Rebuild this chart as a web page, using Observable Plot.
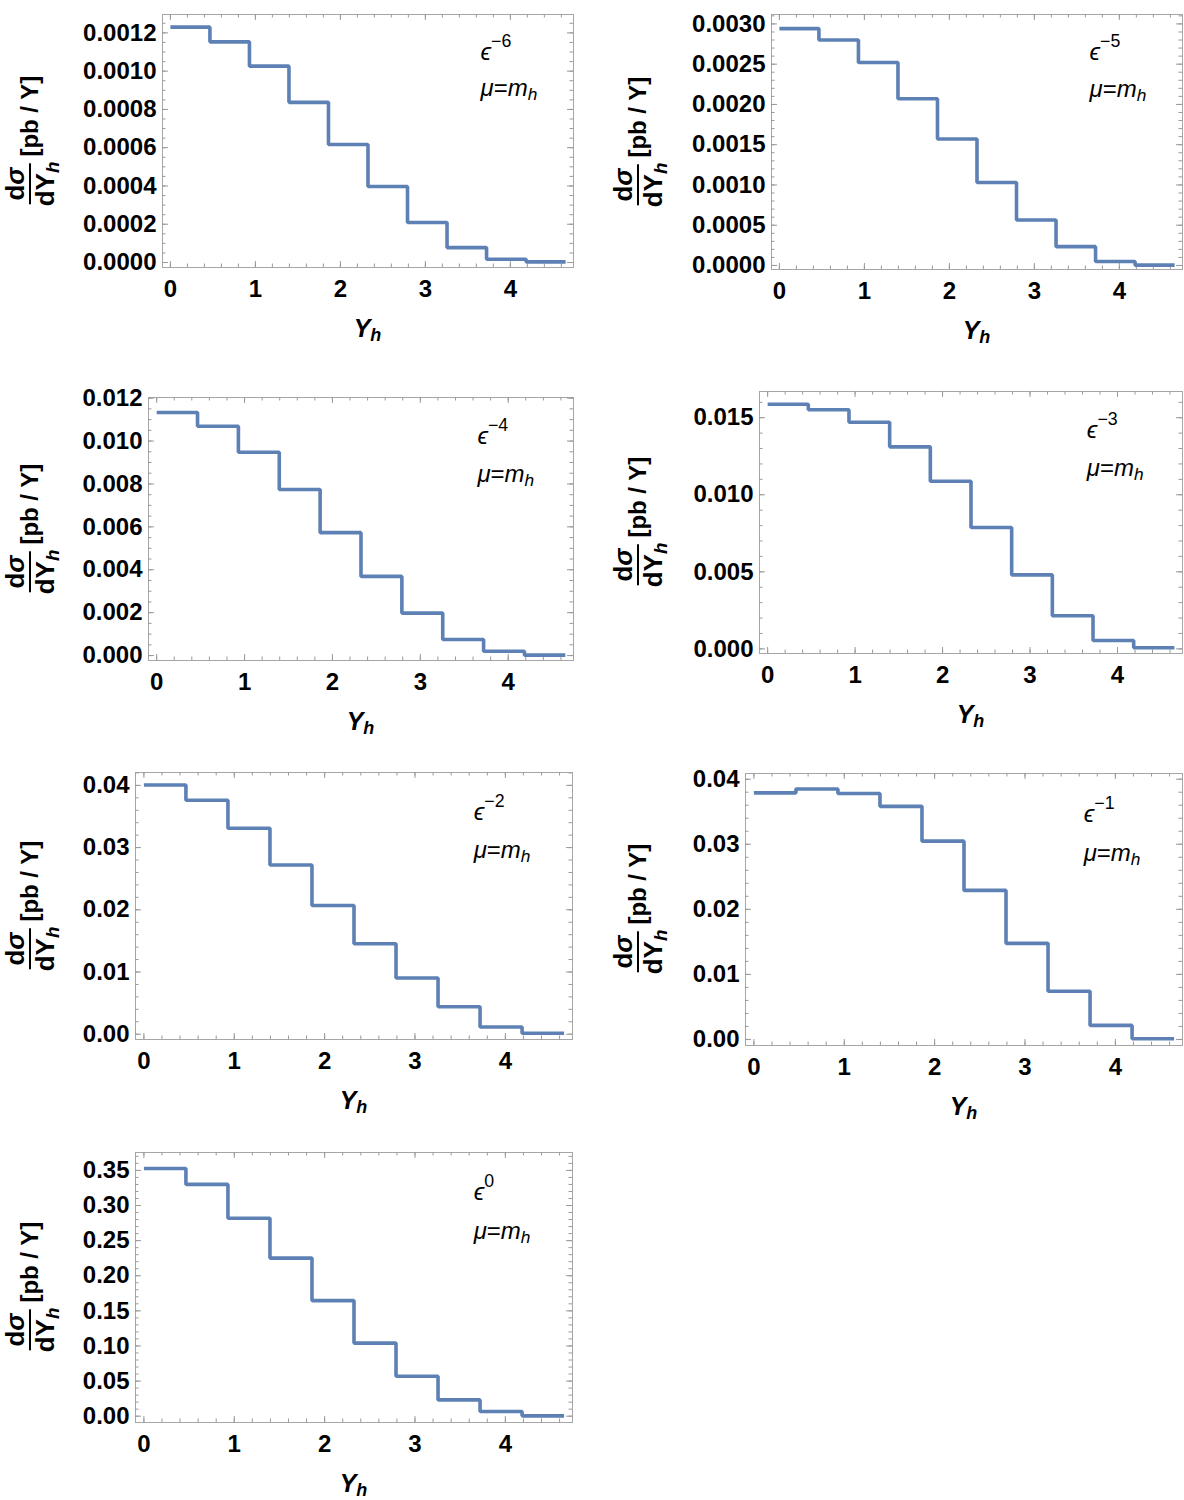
<!DOCTYPE html>
<html><head><meta charset="utf-8">
<script src="https://cdn.jsdelivr.net/npm/d3@7"></script>
<script src="https://cdn.jsdelivr.net/npm/@observablehq/plot@0.6"></script>
<style>
body{margin:0;background:#fff;}
#root{position:relative;width:1184px;height:1500px;font-family:"Liberation Sans",Arial,sans-serif;color:#000;overflow:hidden;}
.panel{position:absolute;}
.ylab{position:absolute;transform:translate(-50%,-50%) rotate(-90deg);white-space:nowrap;font-weight:bold;font-size:24px;display:flex;align-items:center;line-height:1.0;}
.frac{display:inline-flex;flex-direction:column;align-items:center;margin-right:5px;font-size:26px;}
.frac .num{border-bottom:2px solid #000;padding:0 4px 1px 4px;}
.frac .den{padding-top:1px;}
.ylab sub,.xlab sub,.ann sub{font-size:72%;vertical-align:-0.25em;line-height:0;}
.ann{position:absolute;font-size:24px;line-height:1;white-space:nowrap;}
.ann .sup{font-size:74%;vertical-align:0.72em;line-height:0;}
.xlab{position:absolute;transform:translate(-50%,-50%);font-weight:bold;font-style:italic;font-size:25px;white-space:nowrap;}
</style>
</head><body><div id="root"></div>
<script>
// ---- data ----
const binEdges = [0, 0.465, 0.93, 1.395, 1.86, 2.325, 2.79, 3.255, 3.72, 4.185, 4.65];
const orders = ["−6", "−5", "−4", "−3", "−2", "−1", "0"];
const epsM6 = [0.00123, 0.001153, 0.001026, 0.000837, 0.000617, 0.000397, 0.000209, 0.000078, 0.000017, 0.0000035];
const epsM5 = [0.002942, 0.0028, 0.00252, 0.00207, 0.00157, 0.00103, 0.000564, 0.000234, 0.00005, 0.000004];
const epsM4 = [0.01133, 0.01069, 0.00948, 0.00774, 0.00573, 0.00369, 0.00198, 0.00075, 0.0002, 0.00002];
const epsM3 = [0.01587, 0.01552, 0.0147, 0.01311, 0.01088, 0.00788, 0.0048, 0.00215, 0.00054, 0.00007];
const epsM2 = [0.04005, 0.0376, 0.0331, 0.0272, 0.0207, 0.01455, 0.00903, 0.00441, 0.00117, 0.00016];
const epsM1 = [0.03789, 0.0385, 0.03779, 0.03583, 0.03048, 0.02291, 0.01477, 0.00741, 0.00216, 0.0001];
const eps0  = [0.3528, 0.3301, 0.2819, 0.2251, 0.1646, 0.1041, 0.0568, 0.0232, 0.0066, 0.0005];

const xTicks = [0, 1, 2, 3, 4];
const yTicksM6 = [0, 0.0002, 0.0004, 0.0006, 0.0008, 0.0010, 0.0012];
const yTicksM5 = [0, 0.0005, 0.0010, 0.0015, 0.0020, 0.0025, 0.0030];
const yTicksM4 = [0, 0.002, 0.004, 0.006, 0.008, 0.010, 0.012];
const yTicksM3 = [0, 0.005, 0.010, 0.015];
const yTicksM2 = [0, 0.01, 0.02, 0.03, 0.04];
const yTicksM1 = [0, 0.01, 0.02, 0.03, 0.04];
const yTicks0  = [0, 0.05, 0.10, 0.15, 0.20, 0.25, 0.30, 0.35];

// ---- layout / style ----
const BLUE = "#5E81B5", FRAME = "#a6a6a6", TICK = "#9a9a9a";
const xDomain = [-0.093, 4.743];
const panels = [
  {values: epsM6, yTicks: yTicksM6, minor: 0.00005, fmt: ".4f", yDomain: [-0.000026, 0.001296], rect: [162, 573, 14, 267], labX: 30},
  {values: epsM5, yTicks: yTicksM5, minor: 0.0001,  fmt: ".4f", yDomain: [-0.00005, 0.003117],  rect: [771, 1182, 14, 269], labX: 638},
  {values: epsM4, yTicks: yTicksM4, minor: 0.0005,  fmt: ".3f", yDomain: [-0.00023, 0.01203],   rect: [148, 573, 397, 660], labX: 30},
  {values: epsM3, yTicks: yTicksM3, minor: 0.001,   fmt: ".3f", yDomain: [-0.0003, 0.0167],     rect: [759, 1182, 391, 653], labX: 638},
  {values: epsM2, yTicks: yTicksM2, minor: 0.002,   fmt: ".2f", yDomain: [-0.00085, 0.04207],   rect: [135, 572, 772, 1039], labX: 30},
  {values: epsM1, yTicks: yTicksM1, minor: 0.002,   fmt: ".2f", yDomain: [-0.00093, 0.040875],  rect: [745, 1182, 773, 1045], labX: 638},
  {values: eps0,  yTicks: yTicks0,  minor: 0.01,    fmt: ".2f", yDomain: [-0.009, 0.3755],      rect: [135, 572, 1152, 1422], labX: 30}
];

const root = document.getElementById("root");
const ML = 150, MR = 2, MT = 12, MB = 44;
const majLen = 6, minLen = 3.5;

panels.forEach((p, k) => {
  const [x0, x1, y0, y1] = p.rect;
  const innerW = x1 - x0, innerH = y1 - y0;
  const W = innerW + ML + MR, H = innerH + MT + MB;
  const pts = binEdges.map((e, i) => ({x: e, y: p.values[Math.min(i, p.values.length - 1)]}));
  const xMinor = d3.range(0, 4.75, 0.2).map(v => +v.toFixed(3));
  const yStart = Math.ceil(p.yDomain[0] / p.minor) * p.minor;
  const yMinor = d3.range(yStart, p.yDomain[1], p.minor).map(v => +v.toPrecision(6));
  const fmt = d3.format(p.fmt);

  const chart = Plot.plot({
    width: W, height: H,
    marginLeft: ML, marginRight: MR, marginTop: MT, marginBottom: MB,
    x: {domain: xDomain},
    y: {domain: p.yDomain},
    style: {fontFamily: "Liberation Sans, Arial, sans-serif", fontSize: "24px", fontWeight: "bold", color: "#000", background: "transparent", overflow: "visible"},
    marks: [
      Plot.frame({stroke: FRAME, strokeWidth: 1}),
      Plot.ruleX(xMinor, {x: d => d, stroke: TICK, insetTop: innerH - minLen}),
      Plot.ruleX(xTicks, {x: d => d, stroke: TICK, insetTop: innerH - majLen}),
      Plot.ruleX(xMinor, {x: d => d, stroke: TICK, insetBottom: innerH - minLen}),
      Plot.ruleX(xTicks, {x: d => d, stroke: TICK, insetBottom: innerH - majLen}),
      Plot.ruleY(yMinor, {y: d => d, stroke: TICK, insetRight: innerW - minLen}),
      Plot.ruleY(p.yTicks, {y: d => d, stroke: TICK, insetRight: innerW - majLen}),
      Plot.ruleY(yMinor, {y: d => d, stroke: TICK, insetLeft: innerW - minLen}),
      Plot.ruleY(p.yTicks, {y: d => d, stroke: TICK, insetLeft: innerW - majLen}),
      Plot.axisX(xTicks, {tickSize: 0, tickPadding: 12, label: null, tickFormat: d => String(d)}),
      Plot.axisY(p.yTicks, {tickSize: 0, tickPadding: 6, label: null, tickFormat: fmt}),
      Plot.line(pts, {x: "x", y: "y", curve: "step-after", stroke: BLUE, strokeWidth: 3.6, strokeLinecap: "butt", strokeLinejoin: "miter"})
    ]
  });
  const wrap = document.createElement("div");
  wrap.className = "panel";
  wrap.style.left = (x0 - ML) + "px";
  wrap.style.top = (y0 - MT) + "px";
  wrap.appendChild(chart);
  root.appendChild(wrap);

  // y label
  const yl = document.createElement("div");
  yl.className = "ylab";
  yl.style.left = p.labX + "px";
  yl.style.top = ((y0 + y1) / 2) + "px";
  yl.innerHTML = '<span class="frac"><span class="num">d<i>σ</i></span><span class="den">dY<sub><i>h</i></sub></span></span><span>[pb / Y]</span>';
  root.appendChild(yl);

  // x label
  const xl = document.createElement("div");
  xl.className = "xlab";
  xl.style.left = ((x0 + x1) / 2) + "px";
  xl.style.top = (y1 + 61) + "px";
  xl.innerHTML = 'Y<sub>h</sub>';
  root.appendChild(xl);

  // annotations
  const ax = x0 + 0.775 * innerW;
  const a1 = document.createElement("div");
  a1.className = "ann";
  a1.style.left = ax + "px";
  a1.style.top = (y0 + 0.157 * innerH - 14) + "px";
  a1.innerHTML = '<i>ϵ</i><span class="sup">' + orders[k] + '</span>';
  root.appendChild(a1);
  const a2 = document.createElement("div");
  a2.className = "ann";
  a2.style.left = ax + "px";
  a2.style.top = (y0 + 0.30 * innerH - 14) + "px";
  a2.innerHTML = '<i>μ</i>=<i>m</i><sub><i>h</i></sub>';
  root.appendChild(a2);
});
</script>
</body></html>
